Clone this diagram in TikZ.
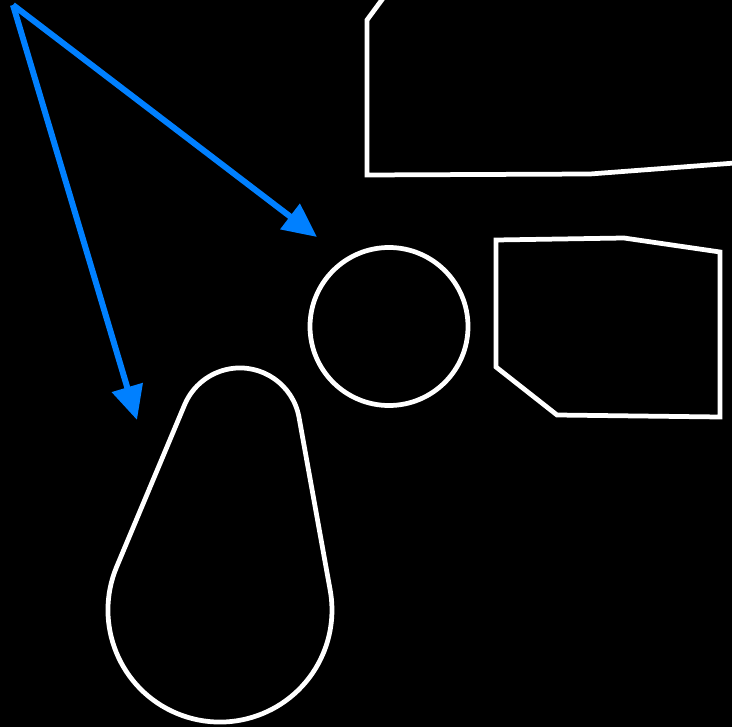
\documentclass[tikz,border=0pt]{standalone}
\usepackage{amsmath,amssymb}
\usepackage{tikz}
\usetikzlibrary{arrows.meta}
\definecolor{arrowblue}{RGB}{0,128,255}

\begin{document}
\begin{tikzpicture}[
  outline/.style={draw=white,line width=0.095cm,line join=miter},
  pointer/.style={draw=arrowblue,line width=0.12cm,-{Triangle[length=0.68cm,width=0.62cm]}}]
\fill[black] (0,0) rectangle (14.64,14.54);
\useasboundingbox (0,0) rectangle (14.64,14.54);
\clip (0,0) rectangle (14.64,14.54);
\draw[outline] (7.68,14.6) -- (7.34,14.14) -- (7.34,11.04) -- (11.8,11.06) -- (14.7,11.28);
\draw[outline] (9.92,9.74) -- (12.48,9.78) -- (14.4,9.5) -- (14.4,6.2) -- (11.14,6.24) -- (9.92,7.2) -- cycle;
\draw[outline] (7.78,8.01) circle (1.58);
\draw[outline] (5.98,6.194) arc[start angle=10.23,end angle=157.23,radius=1.2]
  -- (2.334,3.206) arc[start angle=157.23,end angle=370.23,radius=2.24] -- cycle;
\coordinate (src) at (0.26,14.44);
\coordinate (disc tip) at (6.34,9.8);
\coordinate (drop tip) at (2.74,6.14);
\draw[pointer] (src) -- (disc tip);
\draw[pointer] (src) -- (drop tip);
\end{tikzpicture}
\end{document}
